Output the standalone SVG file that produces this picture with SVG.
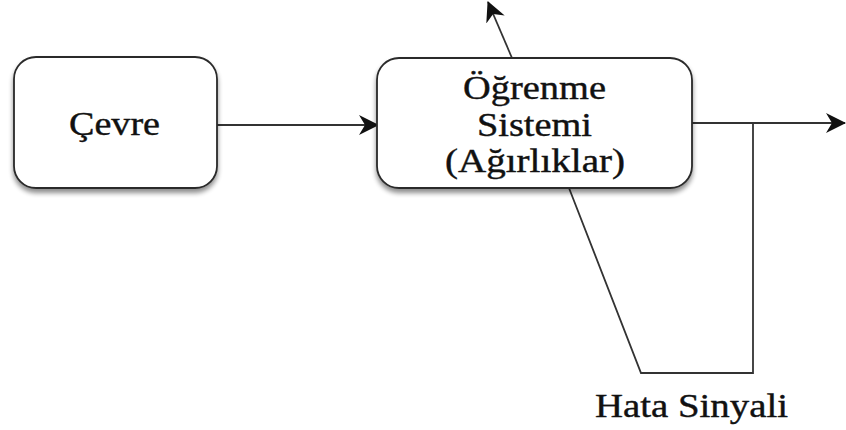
<svg xmlns="http://www.w3.org/2000/svg" width="846" height="430" viewBox="0 0 846 430">
  <style>
    .box { fill: #ffffff; stroke: #2a2a2a; stroke-width: 1.8; }
    .lbl { font-family: "Liberation Serif", "Times New Roman", serif; font-size: 33px; fill: #111111; stroke: #111111; stroke-width: 0.4; text-anchor: start; }
    .wire { fill: none; stroke: #333333; stroke-width: 1.8; }
  </style>
  <defs>
    <filter id="shadow" x="-10%" y="-10%" width="120%" height="130%">
      <feGaussianBlur in="SourceAlpha" stdDeviation="2.5"/>
      <feOffset dx="0" dy="4" result="b"/>
      <feComponentTransfer><feFuncA type="linear" slope="0.45"/></feComponentTransfer>
      <feMerge><feMergeNode/><feMergeNode in="SourceGraphic"/></feMerge>
    </filter>
    <marker id="head" viewBox="0 0 20 22" refX="19" refY="11" markerWidth="20" markerHeight="22" markerUnits="userSpaceOnUse" orient="auto">
      <path d="M0,1 L20,11 L0,21 L6,11 Z" fill="#111111"/>
    </marker>
  </defs>

  <g id="connectors">
    <line class="wire" x1="217" y1="125" x2="378" y2="125" marker-end="url(#head)"/>
    <line class="wire" x1="692" y1="123" x2="845" y2="123" marker-end="url(#head)"/>
    <line class="wire" x1="512" y1="58" x2="488" y2="2" marker-end="url(#head)"/>
    <polyline class="wire" points="753,123 753,373 641,373 569,188"/>
  </g>

  <g id="cevre">
    <rect class="box" x="14" y="57" width="203" height="131" rx="22" filter="url(#shadow)"/>
    <text class="lbl" x="69" y="135" textLength="91" lengthAdjust="spacingAndGlyphs">Çevre</text>
  </g>

  <g id="ogrenme-sistemi">
    <rect class="box" x="377" y="58" width="315" height="130" rx="22" filter="url(#shadow)"/>
    <text class="lbl" x="463" y="99" textLength="143" lengthAdjust="spacingAndGlyphs">Öğrenme</text>
    <text class="lbl" x="477" y="136" textLength="115" lengthAdjust="spacingAndGlyphs">Sistemi</text>
    <text class="lbl" x="445" y="172" textLength="180" lengthAdjust="spacingAndGlyphs">(Ağırlıklar)</text>
  </g>

  <g id="hata-sinyali">
    <text class="lbl" x="595" y="417" textLength="193" lengthAdjust="spacingAndGlyphs">Hata Sinyali</text>
  </g>
</svg>
